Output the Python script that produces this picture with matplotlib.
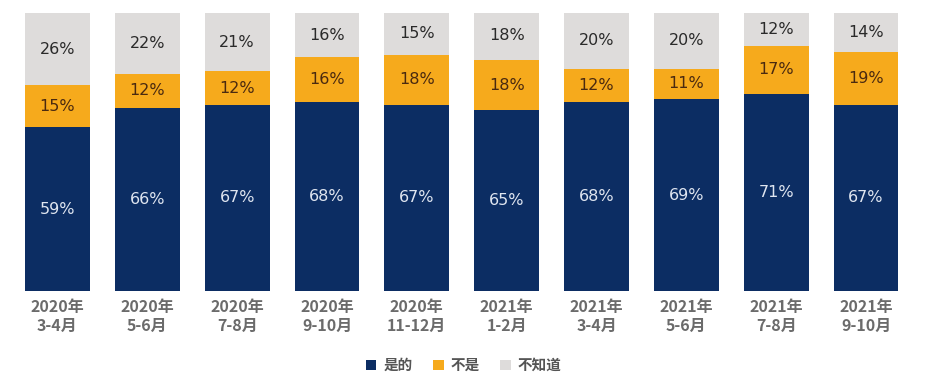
import matplotlib.pyplot as plt

plt.rcParams['font.family'] = ['Noto Sans CJK SC', 'DejaVu Sans']

periods = ['2020年\n3-4月', '2020年\n5-6月', '2020年\n7-8月', '2020年\n9-10月', '2020年\n11-12月',
           '2021年\n1-2月', '2021年\n3-4月', '2021年\n5-6月', '2021年\n7-8月', '2021年\n9-10月']
yes = [59, 66, 67, 68, 67, 65, 68, 69, 71, 67]
no = [15, 12, 12, 16, 18, 18, 12, 11, 17, 19]
dont_know = [26, 22, 21, 16, 15, 18, 20, 20, 12, 14]

c_yes = '#0c2d63'
c_no = '#f6aa1c'
c_dk = '#dedcdb'

fig = plt.figure(figsize=(9.28, 3.81), dpi=100)
ax = fig.add_axes([0, 0.236, 1, 0.73])

x = list(range(len(periods)))
w = 0.72
bottom_no = yes
bottom_dk = [a + b for a, b in zip(yes, no)]
b1 = ax.bar(x, yes, w, color=c_yes, label='是的')
b2 = ax.bar(x, no, w, bottom=bottom_no, color=c_no, label='不是')
b3 = ax.bar(x, dont_know, w, bottom=bottom_dk, color=c_dk, label='不知道')

for i in x:
    ax.text(i, yes[i] / 2, f'{yes[i]}%', ha='center', va='center',
            color='#dfe5f0', fontsize=11.5, family='DejaVu Sans')
    ax.text(i, bottom_no[i] + no[i] / 2, f'{no[i]}%', ha='center', va='center',
            color='#4a2a10', fontsize=11.5, family='DejaVu Sans')
    ax.text(i, bottom_dk[i] + dont_know[i] / 2, f'{dont_know[i]}%', ha='center', va='center',
            color='#2a2a2a', fontsize=11.5, family='DejaVu Sans')

ax.set_xlim(-0.64, 9.69)
ax.set_ylim(0, 100)
ax.set_xticks(x)
ax.set_xticklabels(periods, fontsize=11.5, fontweight='bold', color='#6b6b6b', linespacing=1.2)
ax.tick_params(axis='x', length=0, pad=6)
ax.set_yticks([])
for s in ax.spines.values():
    s.set_visible(False)

fig.legend(handles=[b1, b2, b3], loc='center', bbox_to_anchor=(0.5, 0.042), ncol=3,
           frameon=False, handlelength=0.7, handleheight=0.7,
           handletextpad=0.5, columnspacing=1.4, labelcolor='#555555',
           prop={'family': ['Noto Sans CJK SC', 'DejaVu Sans'], 'weight': 'bold', 'size': 10.5})

fig.savefig('out.png', dpi=100)
